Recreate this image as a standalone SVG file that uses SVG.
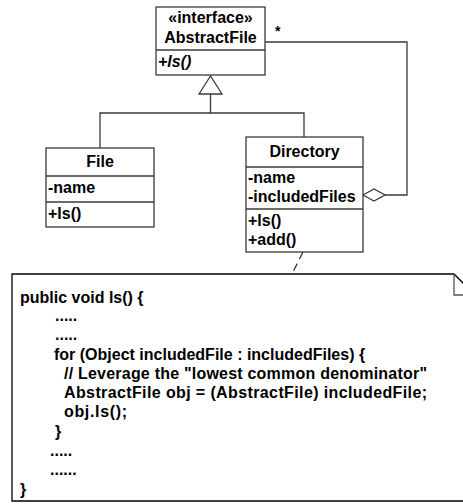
<svg xmlns="http://www.w3.org/2000/svg" width="463" height="504" viewBox="0 0 463 504">
<style>
.box{fill:#fff;stroke:#3a3a3a;stroke-width:1.3}
.ln{fill:none;stroke:#3a3a3a;stroke-width:1.3}
.t{font-family:"Liberation Sans",Arial,sans-serif;font-weight:bold;font-size:16px;fill:#000}
.c{text-anchor:middle}
.code{font-family:"Liberation Sans",Arial,sans-serif;font-weight:bold;font-size:16px;fill:#000}
</style>
<rect width="463" height="504" fill="#fff"/>
<g id="connectors">
  <path class="ln" d="M100,148 V113 H304 V137"/>
  <path class="ln" d="M210.5,113 V94"/>
  <polygon class="box" points="210.5,76 199,94 222,94"/>
  <path class="ln" d="M265,42 H407 V195 H385"/>
  <polygon class="box" points="363,195 374,189 385,195 374,201"/>
  <text class="t" x="275" y="36" style="font-size:14px">*</text>
  <path class="ln" d="M303,252 L292,274" stroke-dasharray="8 5"/>
</g>
<g id="AbstractFile">
  <rect class="box" x="156" y="7" width="109" height="68"/>
  <line class="ln" x1="156" y1="50" x2="265" y2="50"/>
  <text class="t c" x="210.5" y="23">«interface»</text>
  <text class="t c" x="210.5" y="43">AbstractFile</text>
  <text class="t" x="158" y="67" font-style="italic">+ls()</text>
</g>
<g id="File">
  <rect class="box" x="46" y="148" width="108" height="79"/>
  <line class="ln" x1="46" y1="176" x2="154" y2="176"/>
  <line class="ln" x1="46" y1="202" x2="154" y2="202"/>
  <text class="t c" x="100" y="167">File</text>
  <text class="t" x="48" y="193">-name</text>
  <text class="t" x="48" y="219">+ls()</text>
</g>
<g id="Directory">
  <rect class="box" x="246" y="137" width="117" height="115"/>
  <line class="ln" x1="246" y1="167" x2="363" y2="167"/>
  <line class="ln" x1="246" y1="209" x2="363" y2="209"/>
  <text class="t c" x="304.5" y="157">Directory</text>
  <text class="t" x="248" y="183">-name</text>
  <text class="t" x="248" y="202">-includedFiles</text>
  <text class="t" x="248" y="226">+ls()</text>
  <text class="t" x="248" y="245">+add()</text>
</g>
<g id="note">
  <path d="M12,274 H454 L476,296 V501 H12 Z" fill="#fff" stroke="#000" stroke-width="1.3"/>
  <path d="M454,274 V295 H476" fill="none" stroke="#555" stroke-width="1.3"/>
  <text class="code" x="20" y="303">public void ls() {</text>
  <text class="code" x="55" y="321">.....</text>
  <text class="code" x="55" y="340">.....</text>
  <text class="code" x="54" y="360">for (Object includedFile : includedFiles) {</text>
  <text class="code" x="64" y="379" textLength="363" lengthAdjust="spacing">// Leverage the "lowest common denominator"</text>
  <text class="code" x="64" y="398" textLength="363" lengthAdjust="spacing">AbstractFile obj = (AbstractFile) includedFile;</text>
  <text class="code" x="64" y="417" textLength="63" lengthAdjust="spacing">obj.ls();</text>
  <text class="code" x="55" y="437">}</text>
  <text class="code" x="50" y="456">.....</text>
  <text class="code" x="50" y="475">......</text>
  <text class="code" x="20" y="495">}</text>
</g>
</svg>
